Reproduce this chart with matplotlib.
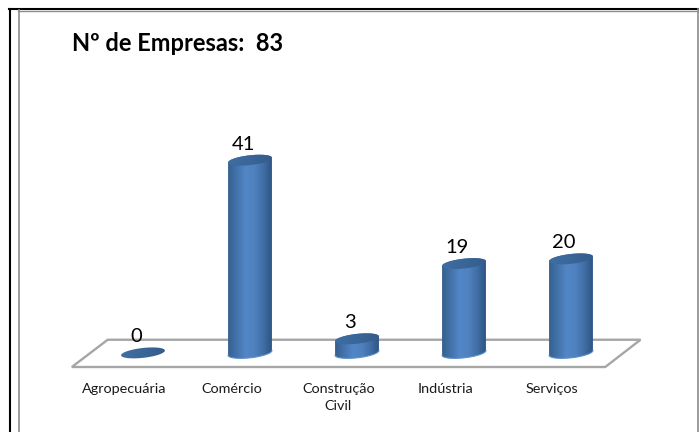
import numpy as np
from matplotlib import pyplot as plt
from matplotlib.colors import LinearSegmentedColormap
from matplotlib.lines import Line2D
from matplotlib.patches import PathPatch, Polygon
from matplotlib.path import Path

plt.rcParams['font.family'] = ['Lato', 'DejaVu Sans']

categorias = ["Agropecuária", "Comércio", "Construção\nCivil", "Indústria", "Serviços"]
empresas = [0, 41, 3, 19, 20]
titulo = "Nº de Empresas:  83"

W, H = 699, 432
fig = plt.figure(figsize=(W / 100, H / 100), dpi=100)

# 107 px per category, 4.7 px per company, zero at y=353
left = 143 - 0.5 * 107
bottom = H - 367
ymin, ymax = -3, 54
ax = fig.add_axes([left / W, bottom / H, 5 * 107 / W, (ymax - ymin) * 4.7 / H])
ax.set_xlim(-0.5, 4.5)
ax.set_ylim(ymin, ymax)
ax.axis("off")

# floor
floor = Polygon([(-0.665, -3), (-0.33, 2.8), (4.65, 2.8), (4.32, -3)], closed=True,
                fill=False, edgecolor="#a6a6a6", linewidth=1.7, clip_on=False, zorder=1)
ax.add_patch(floor)

cmap_body = LinearSegmentedColormap.from_list("body", ["#35618f", "#4473ab", "#5286c6", "#5082c0", "#416fa6", "#2f5583"])
cmap_top = LinearSegmentedColormap.from_list("top", ["#3f6ea3", "#3a6698", "#355c8c"])
grad = np.linspace(0, 1, 128).reshape(1, -1)

a = 0.205   # half width
b = 1.05    # half height of the ellipse
tilt = 0.5
t = np.linspace(0, 2 * np.pi, 100)


def ellipse(cx, cy, tt):
    return cx + a * np.cos(tt), cy + b * np.sin(tt) + tilt * np.cos(tt)


for i, v in enumerate(empresas):
    if v > 0:
        # body
        xb, yb = ellipse(i, 0, np.linspace(np.pi, 2 * np.pi, 50))
        xt, yt = ellipse(i, v, np.linspace(0, np.pi, 50))
        verts = np.vstack([np.column_stack([xb, yb]), np.column_stack([xt, yt]), [[xb[0], yb[0]]]])
        codes = [Path.MOVETO] + [Path.LINETO] * (len(verts) - 2) + [Path.CLOSEPOLY]
        clip = PathPatch(Path(verts, codes), facecolor="none", edgecolor="none", transform=ax.transData)
        ax.add_patch(clip)
        im = ax.imshow(grad, cmap=cmap_body, extent=[i - a, i + a, -2, v + 2], aspect="auto", zorder=2)
        im.set_clip_path(clip)
        ax.plot(xb, yb, color="#5f90cc", linewidth=0.8, zorder=3, clip_on=False)
    # top
    xe, ye = ellipse(i, v, t)
    top = Polygon(np.column_stack([xe, ye]), closed=True, facecolor="none", edgecolor="none")
    ax.add_patch(top)
    im = ax.imshow(grad, cmap=cmap_top, extent=[i - a, i + a, v - 2, v + 2], aspect="auto", zorder=4)
    im.set_clip_path(top)
    ax.text(i - 0.065, v + 1.6, str(v), ha="center", va="bottom", fontsize=14.5, color="black", zorder=5)

ax.set_xlim(-0.5, 4.5)
ax.set_ylim(ymin, ymax)

for i, c in enumerate(categorias):
    ax.text(i - 0.175, -6.4, c, ha="center", va="top", fontsize=10.4, color="#1a1a1a", linespacing=1.55, clip_on=False)

fig.text(72 / W, 1 - 51 / H, titulo, fontsize=17, fontweight="bold", color="black", ha="left", va="baseline")

# outer frame
fig.add_artist(Line2D([9.5 / W, 9.5 / W], [0, 1 - 9 / H], color="black", linewidth=1.5))
fig.add_artist(Line2D([9 / W, 1], [1 - 9 / H, 1 - 9 / H], color="black", linewidth=1.5))
fig.add_artist(Line2D([18.5 / W, 18.5 / W], [0, 1 - 10 / H], color="#8c8c8c", linewidth=1.2))
fig.add_artist(Line2D([18 / W, 1], [1 - 10.5 / H, 1 - 10.5 / H], color="#8c8c8c", linewidth=1))
fig.add_artist(Line2D([698 / W, 698 / W], [0, 1 - 9 / H], color="#8c8c8c", linewidth=1.2))

plt.savefig("out.png", dpi=100)
